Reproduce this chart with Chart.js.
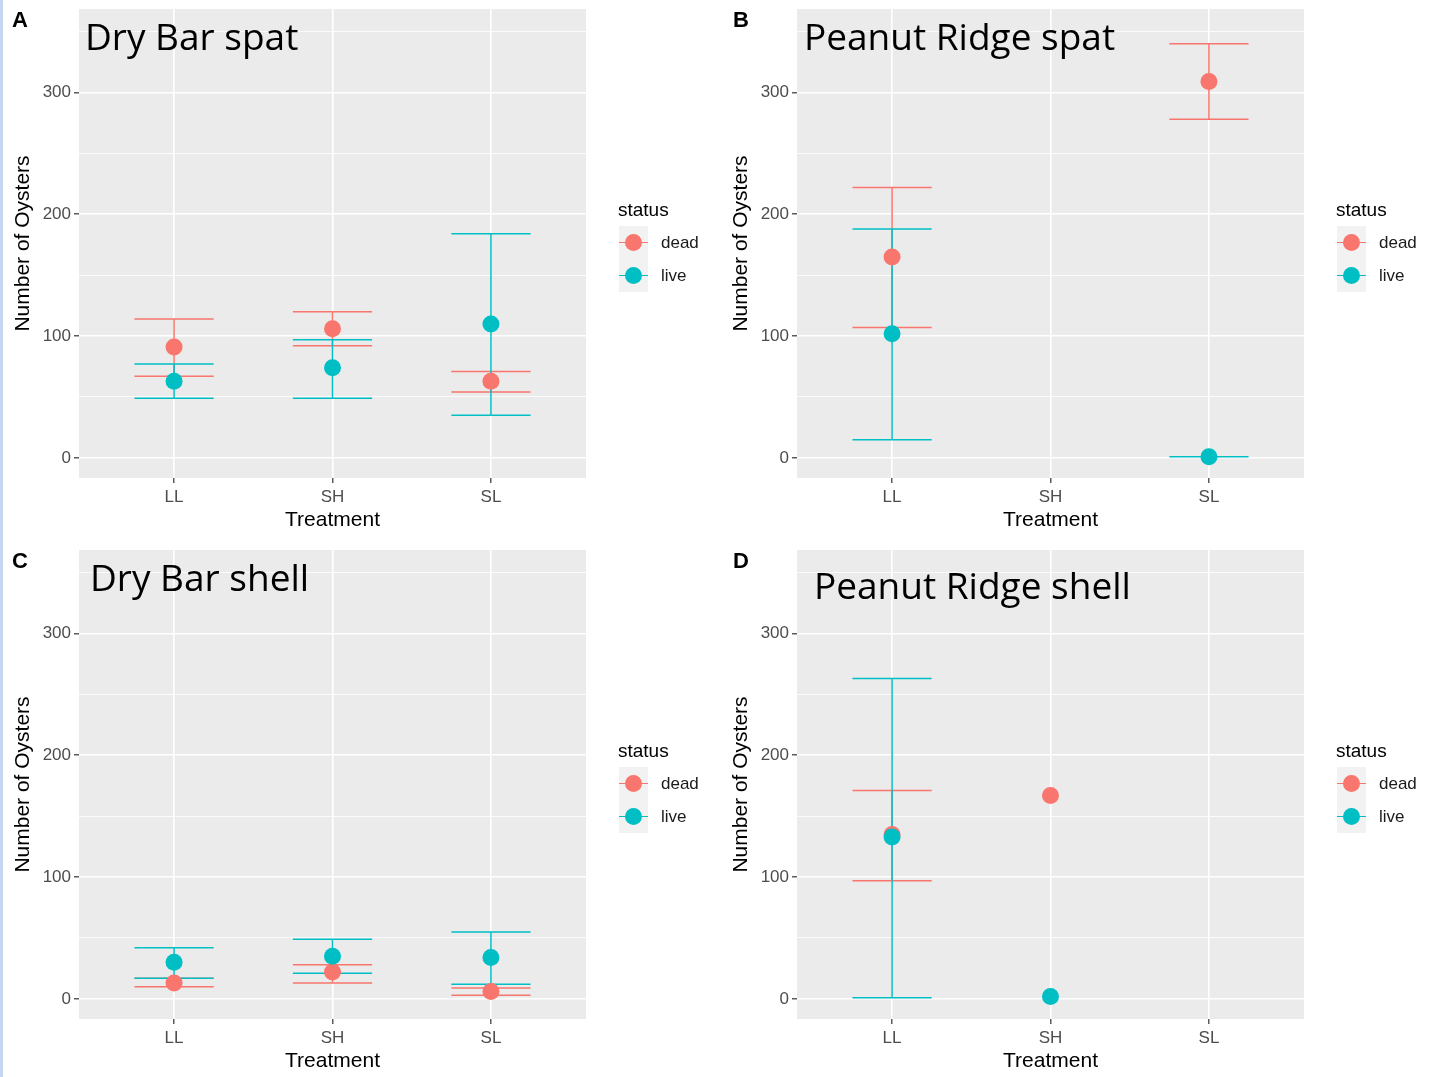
<!DOCTYPE html>
<html lang="en">
<head>
<meta charset="UTF-8" />
<title>Number of Oysters by Treatment</title>
<script src="https://cdn.jsdelivr.net/npm/chart.js"></script>
<style>
  body { margin: 0; background: #fff; }
  #page { position: relative; width: 1429px; height: 1077px; overflow: hidden; font-family: "Liberation Sans", Arial, sans-serif; }
  #strip { position: absolute; left: 0; top: 0; width: 3px; height: 1077px; background: #c6d6ef; }
  .panel { position: absolute; width: 711px; height: 536px; }
  .panel canvas { position: absolute; left: 0; top: 0; }
  .tag { position: absolute; font-weight: bold; font-size: 22px; line-height: 22px; color: #000; }
  .title { position: absolute; font-family: "Open Sans", sans-serif; font-size: 37px; line-height: 37px; white-space: nowrap; color: #000; }
  .lg-title { position: absolute; left: 618px; top: 199px; font-size: 19px; line-height: 22px; color: #000; }
  .lg-key { position: absolute; left: 619px; width: 29px; height: 33px; background: #f2f2f2; }
  .lg-key .ln { position: absolute; left: 0; right: 0; top: 15.5px; height: 1.5px; }
  .lg-key .dot { position: absolute; left: 6px; top: 8px; width: 17px; height: 17px; border-radius: 50%; }
  .lg-label { position: absolute; left: 661px; height: 33px; line-height: 33px; font-size: 17px; color: #1a1a1a; }
</style>
</head>
<body>
<div id="page">
  <div id="strip"></div>
</div>

<script>
  // categories and tick values
  const treatments = ['LL', 'SH', 'SL'];
  const statusNames = ['dead', 'live'];
  const statusColors = ['#F8766D', '#00BFC4'];
  const yTickValues = [0, 100, 200, 300];
  const yMinorValues = [50, 150, 250, 350];

  // A - Dry Bar spat
  const drySpatDead   = [91, 106, 63];
  const drySpatDeadLo = [67, 92, 54];
  const drySpatDeadHi = [114, 120, 71];
  const drySpatLive   = [63, 74, 110];
  const drySpatLiveLo = [49, 49, 35];
  const drySpatLiveHi = [77, 97, 184];

  // B - Peanut Ridge spat (nothing for SH)
  const peanutSpatDead   = [165, null, 309];
  const peanutSpatDeadLo = [107, null, 278];
  const peanutSpatDeadHi = [222, null, 340];
  const peanutSpatLive   = [102, null, 1];
  const peanutSpatLiveLo = [15, null, 1];
  const peanutSpatLiveHi = [188, null, 1];

  // C - Dry Bar shell
  const dryShellDead   = [13, 22, 6];
  const dryShellDeadLo = [10, 13, 3];
  const dryShellDeadHi = [17, 28, 9];
  const dryShellLive   = [30, 35, 34];
  const dryShellLiveLo = [17, 21, 12];
  const dryShellLiveHi = [42, 49, 55];

  // D - Peanut Ridge shell (nothing for SL)
  const peanutShellDead   = [135, 167, null];
  const peanutShellDeadLo = [97, null, null];
  const peanutShellDeadHi = [171, null, null];
  const peanutShellLive   = [133, 2, null];
  const peanutShellLiveLo = [1, null, null];
  const peanutShellLiveHi = [263, null, null];

  const panels = [
    { tag: 'A', title: 'Dry Bar spat', left: 0, top: 0, tagX: 12, titleX: 85, titleY: 17,
      dead: [drySpatDead, drySpatDeadLo, drySpatDeadHi], live: [drySpatLive, drySpatLiveLo, drySpatLiveHi] },
    { tag: 'B', title: 'Peanut Ridge spat', left: 718, top: 0, tagX: 15, titleX: 86, titleY: 17,
      dead: [peanutSpatDead, peanutSpatDeadLo, peanutSpatDeadHi], live: [peanutSpatLive, peanutSpatLiveLo, peanutSpatLiveHi] },
    { tag: 'C', title: 'Dry Bar shell', left: 0, top: 541, tagX: 12, titleX: 90, titleY: 17,
      dead: [dryShellDead, dryShellDeadLo, dryShellDeadHi], live: [dryShellLive, dryShellLiveLo, dryShellLiveHi] },
    { tag: 'D', title: 'Peanut Ridge shell', left: 718, top: 541, tagX: 15, titleX: 96, titleY: 25,
      dead: [peanutShellDead, peanutShellDeadLo, peanutShellDeadHi], live: [peanutShellLive, peanutShellLiveLo, peanutShellLiveHi] },
  ];

  const tickFont = { family: '"Liberation Sans", Arial, sans-serif', size: 17 };
  const titleFont = { family: '"Liberation Sans", Arial, sans-serif', size: 21 };

  // grey panel background like ggplot
  const panelBg = {
    id: 'panelBg',
    beforeDraw(chart) {
      const { ctx, chartArea: a } = chart;
      ctx.save();
      ctx.fillStyle = '#EBEBEB';
      ctx.fillRect(a.left, a.top, a.width, a.height);
      ctx.restore();
    }
  };

  // error bars, drawn under the points
  const errorBars = {
    id: 'errorBars',
    beforeDatasetsDraw(chart) {
      const { ctx, scales: { x, y } } = chart;
      ctx.save();
      ctx.lineWidth = 1.5;
      chart.data.datasets.forEach(ds => {
        ctx.strokeStyle = ds.backgroundColor;
        ds.lo.forEach((lo, i) => {
          const hi = ds.hi[i];
          if (lo == null || hi == null) return;
          const xc = x.getPixelForValue(i + 1);
          const xl = x.getPixelForValue(i + 1 - 0.25);
          const xr = x.getPixelForValue(i + 1 + 0.25);
          const yl = y.getPixelForValue(lo);
          const yh = y.getPixelForValue(hi);
          ctx.beginPath();
          ctx.moveTo(xl, yh); ctx.lineTo(xr, yh);
          ctx.moveTo(xc, yh); ctx.lineTo(xc, yl);
          ctx.moveTo(xl, yl); ctx.lineTo(xr, yl);
          ctx.stroke();
        });
      });
      ctx.restore();
    }
  };

  function toPoints(vals) {
    const pts = [];
    vals.forEach((v, i) => { if (v != null) pts.push({ x: i + 1, y: v }); });
    return pts;
  }

  function addDiv(parent, cls, text, style) {
    const d = document.createElement('div');
    d.className = cls;
    if (text) d.textContent = text;
    Object.assign(d.style, style || {});
    parent.appendChild(d);
    return d;
  }

  const page = document.getElementById('page');

  panels.forEach(p => {
    const box = addDiv(page, 'panel', null, { left: p.left + 'px', top: p.top + 'px' });
    const canvas = document.createElement('canvas');
    canvas.width = 711;
    canvas.height = 536;
    canvas.style.width = '711px';
    canvas.style.height = '536px';
    box.appendChild(canvas);

    addDiv(box, 'tag', p.tag, { left: p.tagX + 'px', top: '9px' });
    addDiv(box, 'title', p.title, { left: p.titleX + 'px', top: p.titleY + 'px' });

    // legend
    addDiv(box, 'lg-title', 'status');
    statusNames.forEach((name, i) => {
      const key = addDiv(box, 'lg-key', null, { top: (226 + i * 33) + 'px' });
      addDiv(key, 'ln', null, { background: statusColors[i] });
      addDiv(key, 'dot', null, { background: statusColors[i] });
      addDiv(box, 'lg-label', name, { top: (226 + i * 33) + 'px' });
    });

    const series = [p.dead, p.live];
    new Chart(canvas, {
      type: 'scatter',
      data: {
        datasets: series.map((s, i) => ({
          label: statusNames[i],
          data: toPoints(s[0]),
          lo: s[1],
          hi: s[2],
          order: series.length - i, // live drawn over dead
          backgroundColor: statusColors[i],
          borderWidth: 0,
          pointRadius: 8.5,
          pointHoverRadius: 8.5
        }))
      },
      options: {
        responsive: false,
        maintainAspectRatio: false,
        devicePixelRatio: 1,
        animation: false,
        events: [],
        layout: { padding: { left: 0, right: 125, top: 9, bottom: 0 } },
        plugins: { legend: { display: false }, tooltip: { enabled: false } },
        scales: {
          x: {
            type: 'linear',
            min: 0.4,
            max: 3.6,
            afterBuildTicks: s => { s.ticks = treatments.map((t, i) => ({ value: i + 1 })); },
            afterFit: s => { s.height = 58; s.paddingLeft = 0; s.paddingRight = 0; },
            ticks: { callback: v => treatments[v - 1], color: '#4D4D4D', font: tickFont, padding: 4, autoSkip: false, maxRotation: 0 },
            grid: { color: '#FFFFFF', lineWidth: 1.6, tickColor: '#333333', tickLength: 5, tickWidth: 1.2 },
            border: { display: false },
            title: { display: true, text: 'Treatment', color: '#000', font: titleFont, padding: { top: 0, bottom: 3 } }
          },
          y: {
            type: 'linear',
            min: -16.5,
            max: 368.5,
            afterBuildTicks: s => { s.ticks = yTickValues.concat(yMinorValues).sort((a, b) => a - b).map(v => ({ value: v })); },
            afterFit: s => { s.width = 79; s.paddingTop = 0; s.paddingBottom = 0; },
            ticks: { callback: v => yTickValues.includes(v) ? String(v) : '', color: '#4D4D4D', font: tickFont, padding: 3 },
            grid: {
              color: '#FFFFFF',
              lineWidth: c => (c.tick && yTickValues.includes(c.tick.value)) ? 1.6 : 0.8,
              tickColor: c => (c.tick && yTickValues.includes(c.tick.value)) ? '#333333' : 'rgba(0,0,0,0)',
              tickLength: 5,
              tickWidth: 1.2
            },
            border: { display: false },
            title: { display: true, text: 'Number of Oysters', color: '#000', font: titleFont, padding: { top: 11, bottom: 0 } }
          }
        }
      },
      plugins: [panelBg, errorBars]
    });
  });
</script>
</body>
</html>
